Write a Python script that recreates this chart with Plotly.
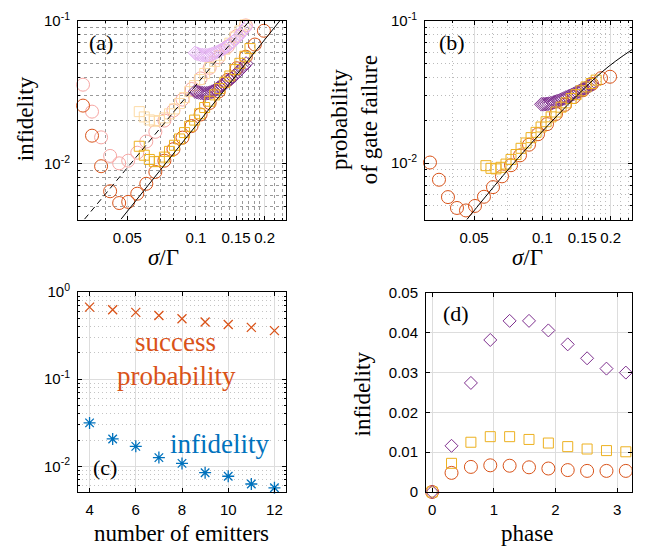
import plotly.graph_objects as go

W, H = 646, 556

# ---------------- Panel (a) / (b) data ----------------
sigma_circ = [0.03195, 0.0350, 0.03835, 0.04202, 0.04604, 0.05044, 0.05527, 0.06056, 0.06635, 0.0727,
              0.07966, 0.08729, 0.09565, 0.1048, 0.1148, 0.1258, 0.1378, 0.1510, 0.1655, 0.1813, 0.1987]
a_circ_dark = [0.0255, 0.01572, 0.00962, 0.00643, 0.00532, 0.00542, 0.00618, 0.00725, 0.00877, 0.01051,
               0.01265, 0.01524, 0.01835, 0.0221, 0.0266, 0.0320, 0.0386, 0.0465, 0.0560, 0.0681, 0.0850]
a_circ_light = [0.0357, 0.02314, 0.0153, 0.01135, 0.01008, 0.01051, 0.01195, 0.01432, 0.01672, 0.02004,
                0.0236, 0.0281, 0.0333, 0.0395, 0.0468, 0.0555, 0.0658, 0.0781, 0.0926]

sigma_sq = [0.05639, 0.05933, 0.06243, 0.06569, 0.06911, 0.07272, 0.07652, 0.08051, 0.08471, 0.08913,
            0.09378, 0.09865, 0.1038, 0.1092, 0.1149, 0.1209, 0.1272, 0.1339, 0.1408, 0.1482,
            0.1559, 0.1640, 0.1726]
a_sq_dark = [0.01326, 0.01148, 0.01072, 0.01035, 0.01039, 0.01114, 0.01221, 0.01347, 0.01491, 0.01652,
             0.01827, 0.0202, 0.02237, 0.02474, 0.02736, 0.0303, 0.03356, 0.03712, 0.04105, 0.04553,
             0.05035, 0.05638, 0.06383]
a_sq_light = [0.02314, 0.02126, 0.02026, 0.01983, 0.02004, 0.02093, 0.02234, 0.02417, 0.0264, 0.02902,
              0.03194, 0.03516, 0.03877, 0.04272, 0.04711, 0.05194, 0.05727, 0.06314, 0.06962, 0.07686,
              0.08474, 0.09342, 0.1031]

sigma_dia = [0.0990, 0.1009, 0.1028, 0.1048, 0.1069, 0.1089, 0.1110, 0.1131, 0.1153, 0.1176,
             0.1198, 0.1221, 0.1245, 0.1269, 0.1293, 0.1318, 0.1344, 0.1370, 0.1396, 0.1423,
             0.1451, 0.1479, 0.1507, 0.1536, 0.1566, 0.1596, 0.1627, 0.1659]
a_dia_dark = [0.0320, 0.03176, 0.03151, 0.03132, 0.03117, 0.03107, 0.03107, 0.03117, 0.03146, 0.0319,
              0.03235, 0.03295, 0.03372, 0.03446, 0.03516, 0.03587, 0.03654, 0.0377, 0.03847, 0.03919,
              0.04042, 0.04143, 0.04267, 0.04401, 0.0454, 0.04683, 0.0483, 0.05019]
a_dia_light = [0.0595, 0.0588, 0.0582, 0.0577, 0.0575, 0.0574, 0.0573, 0.0574, 0.0579, 0.0584,
               0.0591, 0.0598, 0.0606, 0.0616, 0.0625, 0.0636, 0.0648, 0.0661, 0.0676, 0.0693,
               0.0711, 0.0731, 0.0753, 0.0777, 0.0804, 0.0834, 0.0866, 0.0904]

b_circ = [0.01009, 0.00764, 0.00577, 0.00484, 0.00465, 0.0050, 0.0058, 0.00678, 0.00807, 0.00966,
          0.01133, 0.01346, 0.01594, 0.01877, 0.02213, 0.02567, 0.02909, 0.03246, 0.03592, 0.03945, 0.04038]
b_sq = [0.00959, 0.00919, 0.00911, 0.00934, 0.00984, 0.01061, 0.01148, 0.0127, 0.01384, 0.01509,
        0.01644, 0.01791, 0.01952, 0.02111, 0.02283, 0.02469, 0.02648, 0.02841, 0.03024, 0.03219,
        0.03428, 0.03621, 0.03824]
b_dia = [0.02587, 0.02591, 0.02595, 0.02603, 0.02615, 0.02632, 0.02652, 0.02677, 0.02707, 0.02736,
         0.0277, 0.02806, 0.02845, 0.02881, 0.02922, 0.02963, 0.03005, 0.03048, 0.03091, 0.0314,
         0.03189, 0.0324, 0.03291, 0.03343, 0.03396, 0.03449, 0.03509, 0.03564]

# fitted guide lines
a_solid_x = [0.0469, 0.2335]
a_solid_y = [0.0041, 0.100]
a_dash_x = [0.03243, 0.1734]
a_dash_y = [0.0041, 0.1016]
b_solid_x = [0.04637, 0.08817, 0.1826, 0.2484]
b_solid_y = [0.0040, 0.01346, 0.04346, 0.0626]

# ---------------- Panel (c) data ----------------
n_emitters = [4, 5, 6, 7, 8, 9, 10, 11, 12]
c_success = [0.671, 0.627, 0.585, 0.538, 0.494, 0.454, 0.424, 0.393, 0.361]
c_infid = [0.0315, 0.0206, 0.01694, 0.01258, 0.01079, 0.00844, 0.00768, 0.00626, 0.00566]

# ---------------- Panel (d) data ----------------
phase = [0, 0.3142, 0.6283, 0.9425, 1.2566, 1.5708, 1.8850, 2.1991, 2.5133, 2.8274, 3.1416]
d_dia = [0, 0.0116, 0.0274, 0.0382, 0.0430, 0.0430, 0.0406, 0.0371, 0.0336, 0.0310, 0.0300]
d_sq = [0, 0.0072, 0.0125, 0.0139, 0.0139, 0.0132, 0.0123, 0.0114, 0.0108, 0.0104, 0.0101]
d_circ = [0, 0.0048, 0.0063, 0.0067, 0.0066, 0.0062, 0.0059, 0.0055, 0.0053, 0.0053, 0.0053]

ORANGE = '#D95319'
YELLOW = '#EDB120'
PURPLE = '#7E2F8E'
BLUE = '#0072BD'
PINK = '#F7A6A3'
LYELLOW = '#FDDBA6'
LPURPLE = '#E4B2F3'

fig = go.Figure()


def sc(x, y, ax, symbol, color, size, lw=1.0):
    fig.add_trace(go.Scatter(
        x=x, y=y, xaxis='x' + ax, yaxis='y' + ax, mode='markers',
        marker=dict(symbol=symbol, size=size, color=color, line=dict(color=color, width=lw)),
        cliponaxis=False, showlegend=False, hoverinfo='skip'))


def ln(x, y, ax, dash='solid', shape='linear'):
    fig.add_trace(go.Scatter(
        x=x, y=y, xaxis='x' + ax, yaxis='y' + ax, mode='lines',
        line=dict(color='black', width=1, dash=dash, shape=shape),
        showlegend=False, hoverinfo='skip'))


# (a)
sc(sigma_circ[:len(a_circ_light)], a_circ_light, '', 'circle-open', PINK, 13)
sc(sigma_sq, a_sq_light, '', 'square-open', LYELLOW, 10)
sc(sigma_dia, a_dia_light, '', 'diamond-open', LPURPLE, 10.5)
sc(sigma_circ, a_circ_dark, '', 'circle-open', ORANGE, 13)
sc(sigma_dia, a_dia_dark, '', 'diamond-open', PURPLE, 10.5)
sc(sigma_sq, a_sq_dark, '', 'square-open', YELLOW, 10)
ln(a_dash_x, a_dash_y, '', dash='6px,4px')
ln(a_solid_x, a_solid_y, '')

# (b)
sc(sigma_circ, b_circ, '2', 'circle-open', ORANGE, 13)
sc(sigma_dia, b_dia, '2', 'diamond-open', PURPLE, 10.5)
sc(sigma_sq, b_sq, '2', 'square-open', YELLOW, 10)
ln(b_solid_x, b_solid_y, '2', shape='spline')

# (c)
sc(n_emitters, c_success, '3', 'x-thin-open', ORANGE, 9, 1.3)
sc(n_emitters, c_infid, '3', 'asterisk-open', BLUE, 10, 1.3)

# (d)
sc(phase, d_circ, '4', 'circle-open', ORANGE, 13)
sc(phase, d_sq, '4', 'square-open', YELLOW, 10)
sc(phase, d_dia, '4', 'diamond-open', PURPLE, 10)

TICKFONT = dict(family='Liberation Sans', size=15, color='black')
SERIF = 'Liberation Serif'
MAJOR_GRID = '#DDDDDD'


def px2x(p):
    return p / W


def py2y(p):
    return 1 - p / H


def base_axis(domain, anchor):
    return dict(domain=domain, anchor=anchor, ticks='inside', ticklen=4, tickcolor='black',
                showline=True, linecolor='black', linewidth=1, mirror='ticks',
                showgrid=True, gridcolor=MAJOR_GRID, gridwidth=1, zeroline=False,
                tickfont=TICKFONT, tickmode='array', tickangle=0)


sig_minor = [0.04, 0.06, 0.07, 0.08, 0.09, 0.11, 0.12, 0.13, 0.14, 0.16, 0.17, 0.18, 0.19, 0.22, 0.24]
y_minor_ab = [0.005, 0.006, 0.007, 0.008, 0.009, 0.02, 0.03, 0.04, 0.05, 0.06, 0.07, 0.08, 0.09]
y_minor_c = [0.006, 0.007, 0.008, 0.009, 0.02, 0.03, 0.04, 0.05, 0.06, 0.07, 0.08, 0.09,
             0.2, 0.3, 0.4, 0.5, 0.6, 0.7, 0.8, 0.9]

dom_a_x = [px2x(78), px2x(286)]
dom_b_x = [px2x(425), px2x(632)]
dom_d_x = [px2x(426), px2x(632)]
dom_ab_y = [py2y(216), py2y(10)]
dom_c_y = [py2y(498), py2y(291)]
dom_d_y = [py2y(498), py2y(292)]

layout = dict(width=W, height=H, margin=dict(l=0, r=0, t=0, b=0), autosize=False,
              paper_bgcolor='white', plot_bgcolor='white', showlegend=False)

# (a)
xa = base_axis(dom_a_x, 'y')
xa.update(type='log', range=[-1.5175, -0.605], tickvals=[0.05, 0.1, 0.15, 0.2],
          ticktext=['0.05', '0.1', '0.15', '0.2'], ticklabelstandoff=4,
          minor=dict(tickmode='array', tickvals=sig_minor, ticks='inside', ticklen=2, tickcolor='black',
                     showgrid=True, gridcolor='#9A9A9A', griddash='3px,3px', gridwidth=1))
ya = base_axis(dom_ab_y, 'x')
ya.update(type='log', range=[-2.39, -1], tickvals=[0.01, 0.1],
          ticktext=['10<sup>-2</sup>', '10<sup>-1</sup>'], ticklabelstandoff=4,
          minor=dict(tickmode='array', tickvals=y_minor_ab, ticks='inside', ticklen=2, tickcolor='black',
                     showgrid=True, gridcolor='#9A9A9A', griddash='3px,3px', gridwidth=1))
# (b)
xb = base_axis(dom_b_x, 'y2')
xb.update(type='log', range=[-1.5175, -0.605], tickvals=[0.05, 0.1, 0.15, 0.2],
          ticktext=['0.05', '0.1', '0.15', '0.2'], ticklabelstandoff=4,
          minor=dict(tickmode='array', tickvals=sig_minor, ticks='inside', ticklen=2, tickcolor='black',
                     showgrid=True, gridcolor='#BBBBBB', griddash='1px,3px', gridwidth=1))
yb = base_axis(dom_ab_y, 'x2')
yb.update(type='log', range=[-2.397, -1], tickvals=[0.01, 0.1],
          ticktext=['10<sup>-2</sup>', '10<sup>-1</sup>'], ticklabelstandoff=4,
          minor=dict(tickmode='array', tickvals=y_minor_ab, ticks='inside', ticklen=2, tickcolor='black',
                     showgrid=True, gridcolor='#BBBBBB', griddash='1px,3px', gridwidth=1))
# (c)
xc = base_axis(dom_a_x, 'y3')
xc.update(type='linear', range=[3.5, 12.5], tickvals=[4, 6, 8, 10, 12], ticklabelstandoff=4)
yc = base_axis(dom_c_y, 'x3')
yc.update(type='log', range=[-2.295, 0], tickvals=[0.01, 0.1, 1],
          ticktext=['10<sup>-2</sup>', '10<sup>-1</sup>', '10<sup>0</sup>'], ticklabelstandoff=4,
          minor=dict(tickmode='array', tickvals=y_minor_c, ticks='inside', ticklen=2, tickcolor='black',
                     showgrid=True, gridcolor='#C4C4C4', griddash='1px,3px', gridwidth=1))
# (d)
xd = base_axis(dom_d_x, 'y4')
xd.update(type='linear', range=[-0.1, 3.2416], tickvals=[0, 1, 2, 3], ticklabelstandoff=4)
yd = base_axis(dom_d_y, 'x4')
yd.update(type='linear', range=[0, 0.05], tickvals=[0, 0.01, 0.02, 0.03, 0.04, 0.05],
          ticktext=['0', '0.01', '0.02', '0.03', '0.04', '0.05'], ticklabelstandoff=4)

layout.update(xaxis=xa, yaxis=ya, xaxis2=xb, yaxis2=yb, xaxis3=xc, yaxis3=yc, xaxis4=xd, yaxis4=yd)


def ann(text, px, py, size, color='black', angle=0, yanchor='middle'):
    return dict(text=text, x=px2x(px), y=py2y(py), xref='paper', yref='paper',
                xanchor='center', yanchor=yanchor, showarrow=False, textangle=angle,
                font=dict(family=SERIF, size=size, color=color))


annotations = [
    ann('(a)', 100.5, 33, 22),
    ann('(b)', 451.5, 33, 22),
    ann('(c)', 104.5, 473, 22),
    ann('(d)', 456, 313, 22),
    ann('infidelity', 25, 112, 23, angle=-90),
    ann('<i>σ</i>/Γ', 163, 255, 23),
    ann('probability<br>of gate failure', 354, 113, 23, angle=-90),
    ann('<i>σ</i>/Γ', 527, 255, 23),
    ann('number of emitters', 182, 541, 23),
    ann('phase', 527, 541, 23),
    ann('infidelity', 362, 397, 23, angle=-90),
    ann('success', 175.5, 360, 27, color=ORANGE, yanchor='bottom'),
    ann('probability', 176, 360, 27, color=ORANGE, yanchor='top'),
    ann('infidelity', 219.5, 448, 27, color=BLUE),
]
layout['annotations'] = annotations

fig.update_layout(**layout)
fig.write_html('out.html', config={'displayModeBar': False},
               post_script="document.body.style.margin='0px';document.body.style.padding='0px';")
